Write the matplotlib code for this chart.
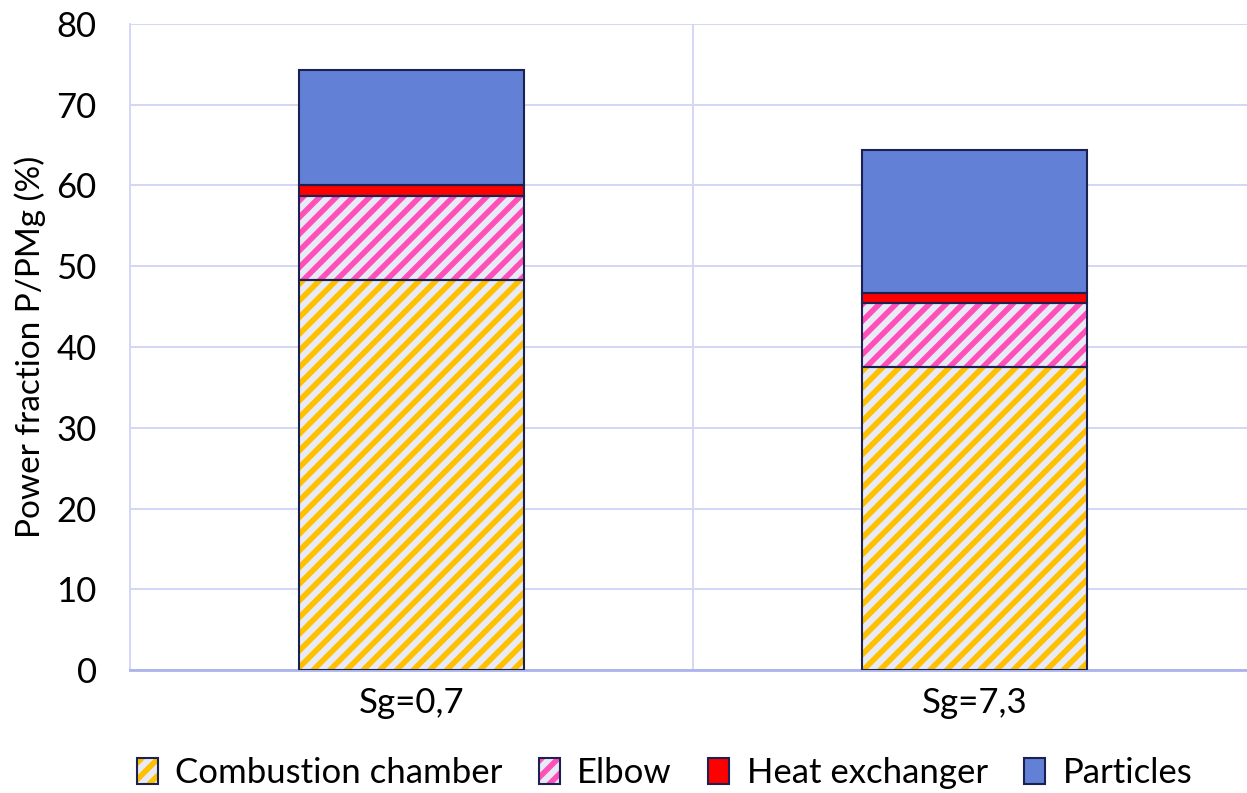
import matplotlib.pyplot as plt
import matplotlib.patches as mpatches
from matplotlib.legend_handler import HandlerTuple
import numpy as np

categories = ['Sg=0,7', 'Sg=7,3']
series_names = ['Combustion chamber', 'Elbow', 'Heat exchanger', 'Particles']
combustion = [48.3, 37.5]
elbow = [10.45, 7.9]
heat_exchanger = [1.25, 1.3]
particles = [14.3, 17.7]

lavender = '#E8EAF6'
navy = '#1B2150'
grid_color = '#D3D7F5'

plt.rcParams['font.family'] = ['Lato', 'DejaVu Sans']
plt.rcParams['hatch.linewidth'] = 4.0

fig = plt.figure(figsize=(12.47, 7.93), dpi=100)
ax = fig.add_axes([130 / 1247, 1 - 670 / 793, 1126 / 1247, 646 / 793])

x = np.arange(len(categories))
width = 0.4
styles = [
    dict(facecolor=lavender, hatch_color='#FFC000', hatch='//'),
    dict(facecolor=lavender, hatch_color='#FF4FB8', hatch='//'),
    dict(facecolor='#FF0000', hatch_color=None, hatch=None),
    dict(facecolor='#6180D6', hatch_color=None, hatch=None),
]
values = [combustion, elbow, heat_exchanger, particles]

bottom = np.zeros(len(categories))
handles = []
for vals, st in zip(values, styles):
    vals = np.array(vals)
    if st['hatch']:
        ax.bar(x, vals, width, bottom=bottom, color=st['facecolor'],
               edgecolor=st['hatch_color'], hatch=st['hatch'], linewidth=0, zorder=3)
        fill = mpatches.Patch(facecolor=st['facecolor'], edgecolor=st['hatch_color'],
                              hatch=st['hatch'], linewidth=0)
    else:
        ax.bar(x, vals, width, bottom=bottom, color=st['facecolor'], linewidth=0, zorder=3)
        fill = mpatches.Patch(facecolor=st['facecolor'], linewidth=0)
    ax.bar(x, vals, width, bottom=bottom, fill=False, edgecolor=navy, linewidth=1.5, zorder=4)
    outline = mpatches.Patch(fill=False, edgecolor=navy, linewidth=1.5)
    handles.append((fill, outline))
    bottom += vals

ax.set_xlim(-0.5, 1.5)
ax.set_ylim(0, 80)
ax.set_yticks(np.arange(0, 81, 10))
ax.set_xticks(x)
ax.set_xticklabels(categories)
ax.tick_params(axis='both', length=0, labelsize=25, colors='black')
ax.tick_params(axis='y', pad=24)
ax.tick_params(axis='x', pad=12)

ax.yaxis.grid(True, color=grid_color, linewidth=1.4, zorder=0)
ax.axvline(0.5, color=grid_color, linewidth=1.4, zorder=0)
ax.set_axisbelow(True)

for s in ['top', 'right']:
    ax.spines[s].set_visible(False)
ax.spines['left'].set_color(grid_color)
ax.spines['left'].set_linewidth(1.4)
ax.spines['bottom'].set_color('#AAB3EE')
ax.spines['bottom'].set_linewidth(2)

ax.set_ylabel('Power fraction P/PMg (%)', fontsize=24)
ax.yaxis.set_label_coords(-84 / 1126, 0.5)

fig.legend(handles, series_names, loc='center', bbox_to_anchor=(0.533, 1 - 773 / 793),
           ncol=4, frameon=False, fontsize=25, handlelength=0.6, handleheight=0.8,
           handletextpad=0.5, columnspacing=1.05,
           handler_map={tuple: HandlerTuple(ndivide=1, pad=0)})

fig.savefig('out.png', dpi=100)
